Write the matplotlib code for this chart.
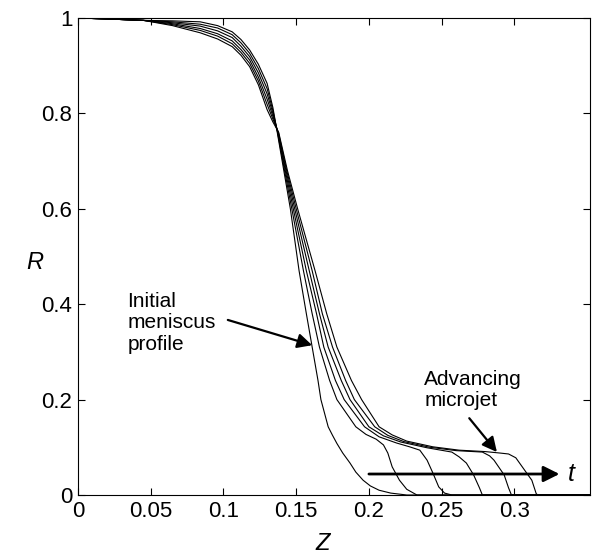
import numpy as np
import matplotlib.pyplot as plt

plt.rcParams['font.family'] = ['Liberation Sans', 'DejaVu Sans']

# Z / R profiles, curve 0 = initial meniscus
z_top = [0.0, 0.020, 0.045, 0.065, 0.084, 0.096, 0.106, 0.112, 0.118, 0.124, 0.130, 0.134]
r_top = [
    [1.0, 0.998, 0.995, 0.994, 0.992, 0.984, 0.971, 0.955, 0.933, 0.903, 0.863, 0.812],
    [1.0, 0.998, 0.995, 0.992, 0.987, 0.979, 0.965, 0.948, 0.926, 0.894, 0.852, 0.806],
    [1.0, 0.998, 0.995, 0.990, 0.983, 0.973, 0.959, 0.941, 0.919, 0.885, 0.841, 0.800],
    [1.0, 0.998, 0.995, 0.988, 0.978, 0.967, 0.952, 0.934, 0.912, 0.876, 0.830, 0.794],
    [1.0, 0.998, 0.995, 0.986, 0.974, 0.962, 0.946, 0.928, 0.905, 0.868, 0.819, 0.788],
    [1.0, 0.998, 0.995, 0.984, 0.969, 0.956, 0.940, 0.922, 0.898, 0.860, 0.808, 0.782],
]

r_mid = [0.76, 0.68, 0.60, 0.47, 0.38, 0.31, 0.24, 0.20, 0.143]
z_mid = [
    [0.1370, 0.1415, 0.146, 0.152, 0.157, 0.161, 0.165, 0.167, 0.172],
    [0.1372, 0.1420, 0.147, 0.155, 0.161, 0.166, 0.173, 0.178, 0.191],
    [0.1374, 0.1425, 0.148, 0.157, 0.164, 0.169, 0.177, 0.183, 0.197],
    [0.1376, 0.1430, 0.149, 0.159, 0.166, 0.172, 0.181, 0.187, 0.200],
    [0.1378, 0.1435, 0.150, 0.161, 0.168, 0.175, 0.184, 0.190, 0.204],
    [0.1380, 0.1440, 0.151, 0.163, 0.171, 0.178, 0.188, 0.195, 0.207],
]

z_tail = [
    [0.175, 0.178, 0.182, 0.187, 0.191, 0.196, 0.201, 0.207, 0.215, 0.226],
    [0.198, 0.205, 0.210, 0.213, 0.216, 0.221, 0.226, 0.233],
    [0.207, 0.219, 0.228, 0.235, 0.240, 0.244, 0.248, 0.252, 0.257],
    [0.210, 0.222, 0.240, 0.257, 0.262, 0.267, 0.272, 0.276, 0.278],
    [0.213, 0.224, 0.242, 0.260, 0.278, 0.283, 0.286, 0.293, 0.296, 0.298],
    [0.216, 0.226, 0.244, 0.262, 0.280, 0.290, 0.296, 0.301, 0.308, 0.312, 0.315, 0.316],
]
r_tail = [
    [0.125, 0.108, 0.088, 0.067, 0.048, 0.031, 0.019, 0.010, 0.004, 0.0],
    [0.127, 0.117, 0.105, 0.088, 0.059, 0.031, 0.012, 0.0],
    [0.122, 0.109, 0.101, 0.094, 0.073, 0.046, 0.017, 0.004, 0.0],
    [0.124, 0.111, 0.099, 0.090, 0.080, 0.067, 0.042, 0.015, 0.0],
    [0.125, 0.112, 0.100, 0.093, 0.090, 0.082, 0.073, 0.042, 0.015, 0.0],
    [0.126, 0.113, 0.101, 0.094, 0.091, 0.088, 0.086, 0.078, 0.048, 0.031, 0.003, 0.0],
]

z_end = 0.352

fig = plt.figure(figsize=(5.92, 5.58), dpi=100)
ax = fig.add_axes([78/592, 63/558, 512/592, 477/558])

for i in range(6):
    z = list(z_top) + z_mid[i] + z_tail[i] + [z_end]
    r = r_top[i] + list(r_mid) + r_tail[i] + [0.0]
    ax.plot(z, r, color='black', lw=0.8)

ax.set_xlim(0, z_end)
ax.set_ylim(0, 1)
ax.set_xticks([0, 0.05, 0.1, 0.15, 0.2, 0.25, 0.3])
ax.set_xticklabels(['0', '0.05', '0.1', '0.15', '0.2', '0.25', '0.3'])
ax.set_yticks([0, 0.2, 0.4, 0.6, 0.8, 1])
ax.set_yticklabels(['0', '0.2', '0.4', '0.6', '0.8', '1'])
ax.tick_params(direction='in', top=True, right=True, length=5, width=0.8,
               labelsize=16, pad=4)
for s in ax.spines.values():
    s.set_linewidth(0.8)

ax.set_xlabel('Z', fontsize=17, style='italic')
ax.xaxis.set_label_coords(0.478, -0.078)
ax.set_ylabel('R', fontsize=17, style='italic', rotation=0)
ax.yaxis.set_label_coords(-0.084, 0.463)

arrow = dict(arrowstyle='-|>', color='black', lw=1.6, mutation_scale=22,
             shrinkA=0, shrinkB=0)

ax.text(0.034, 0.361, 'Initial\nmeniscus\nprofile', fontsize=15,
        va='center', ha='left', linespacing=1.15)
ax.annotate('', xy=(0.161, 0.314), xytext=(0.103, 0.367), arrowprops=arrow)

ax.text(0.238, 0.22, 'Advancing\nmicrojet', fontsize=15,
        va='center', ha='left', linespacing=1.15)
ax.annotate('', xy=(0.288, 0.090), xytext=(0.269, 0.161), arrowprops=arrow)

t_arrow = dict(arrowstyle='-|>', color='black', lw=2.0, mutation_scale=24,
               shrinkA=0, shrinkB=0)
ax.annotate('', xy=(0.331, 0.044), xytext=(0.200, 0.044), arrowprops=t_arrow)
ax.text(0.337, 0.044, 't', fontsize=18, style='italic', va='center', ha='left')

fig.savefig('out.png', dpi=100)
